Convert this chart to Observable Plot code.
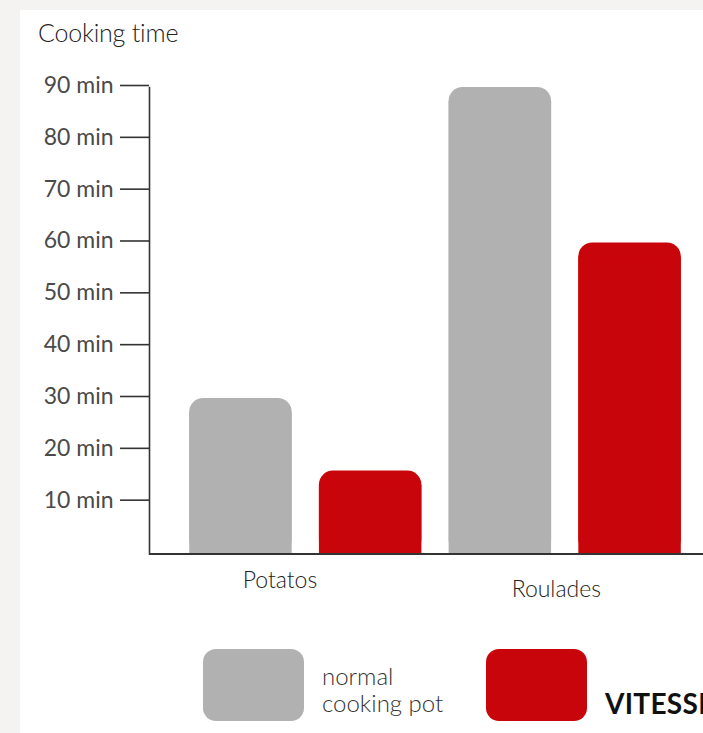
<!DOCTYPE html>
<html>
<head>
<meta charset="utf-8">
<script src="https://cdn.jsdelivr.net/npm/d3@7"></script>
<script src="https://cdn.jsdelivr.net/npm/@observablehq/plot@0.6"></script>
<style>
  html, body { margin: 0; padding: 0; width: 703px; height: 733px; overflow: hidden; background: #f4f3f1; }
  #panel { position: absolute; left: 20px; top: 10px; width: 720px; height: 740px; background: #fff; font-family: Lato, "Open Sans", sans-serif; }
  #title { position: absolute; left: 18px; top: 7px; font-size: 25px; font-weight: 300; color: #222; letter-spacing: -0.2px; }
  #chart { position: absolute; left: 0; top: 0; }
  .sw { position: absolute; width: 101px; height: 72px; border-radius: 13px; }
  .lab { position: absolute; font-size: 24px; line-height: 27px; color: #333; font-weight: 300; }
  .bold { position: absolute; font-size: 28px; font-weight: 700; color: #111; letter-spacing: 0.3px; white-space: nowrap; }
</style>
</head>
<body>
<div id="panel">
  <div id="chart"></div>
  <div id="title">Cooking time</div>
  <div class="sw" style="left:183px; top:639px; background:#b0b1b0;"></div>
  <div class="lab" style="left:302px; top:652px;">normal<br>cooking pot</div>
  <div class="sw" style="left:466px; top:639px; background:#c8050a;"></div>
  <div class="bold" style="left:585px; top:676px;">VITESSE</div>
</div>
<script>
const categories = ["Potatos", "Roulades"];
const seriesNames = ["normal cooking pot", "VITESSE"];
const normalValues = [30, 90];
const vitesseValues = [16, 60];
const yTicks = [10, 20, 30, 40, 50, 60, 70, 80, 90];
const colors = ["#b0b1b0", "#c8050a"];

const rows = [];
categories.forEach((c, i) => {
  rows.push({key: c + "|" + seriesNames[0], category: c, series: seriesNames[0], value: normalValues[i]});
  rows.push({key: c + "|" + seriesNames[1], category: c, series: seriesNames[1], value: vitesseValues[i]});
});
const firstOf = c => rows.filter(r => r.category === c && r.series === seriesNames[0]);

const chart = Plot.plot({
  width: 703,
  height: 600,
  marginLeft: 129,
  marginRight: 2,
  marginTop: 77,
  marginBottom: 56.5,
  style: {fontFamily: "Lato, sans-serif", background: "transparent", overflow: "visible"},
  x: {type: "band", domain: rows.map(r => r.key), paddingInner: 0.21, paddingOuter: 0.31, round: false, axis: null},
  y: {domain: [0, 90], axis: null},
  color: {domain: seriesNames, range: colors},
  marks: [
    Plot.barY(rows, {x: "key", y: "value", fill: "series", rx: 14}),
    Plot.barY(rows, {x: "key", y: "value", fill: "series", insetTop: 14}),
    Plot.axisY({ticks: yTicks, label: null, tickSize: 29, tickPadding: 7, dy: -2, tickFormat: d => d + " min", fontSize: 23, fill: "#4a4a4a", stroke: "#333", strokeWidth: 1.6}),
    Plot.frame({anchor: "left", stroke: "#333", strokeWidth: 1.6}),
    Plot.ruleY([0], {stroke: "#333", strokeWidth: 2}),
    Plot.text(firstOf("Potatos"), {x: "key", text: "category", frameAnchor: "bottom", lineAnchor: "bottom", dx: 39, dy: 33.5, fontSize: 23, fontWeight: 300, fill: "#222"}),
    Plot.text(firstOf("Roulades"), {x: "key", text: "category", frameAnchor: "bottom", lineAnchor: "bottom", dx: 56, dy: 42.5, fontSize: 23, fontWeight: 300, fill: "#222"})
  ]
});
document.getElementById("chart").appendChild(chart);
</script>
</body>
</html>
